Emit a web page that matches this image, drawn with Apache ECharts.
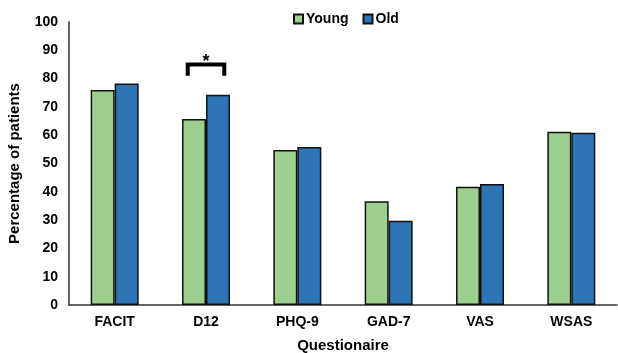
<!DOCTYPE html>
<html><head><meta charset="utf-8">
<script src="https://cdn.jsdelivr.net/npm/echarts@6/dist/echarts.min.js"></script>
<style>html,body{margin:0;padding:0;background:#fff}#c{width:618px;height:353px}</style>
</head><body><div id="c"></div>
<script>
const categories = ['FACIT','D12','PHQ-9','GAD-7','VAS','WSAS'];
const young = [76.0, 65.7, 54.8, 36.7, 41.8, 61.2];
const old = [78.3, 74.3, 55.8, 29.8, 42.8, 60.9];
const yTicks = [0,10,20,30,40,50,60,70,80,90,100];
const sigCategory = 'D12';
const sigTop = 85;
const sigLeg = 81;
const sigStar = 85.8;

const chart = echarts.init(document.getElementById('c'), null, {renderer:'canvas'});
const font = 'Liberation Sans, Arial, sans-serif';
chart.setOption({
  animation:false,
  textStyle:{fontFamily:font},
  legend:{
    data:['Young','Old'], top:7, left:288,
    itemWidth:9, itemHeight:9, itemGap:14,
    icon:'rect',
    textStyle:{fontFamily:font, fontWeight:'bold', fontSize:14, color:'#000', padding:[0,0,0,-2]}
  },
  grid:{left:69, right:1, top:22, bottom:48, containLabel:false, outerBoundsMode:'none'},
  xAxis:{
    type:'category', data:categories,
    axisLine:{lineStyle:{color:'#333', width:1.5}},
    axisTick:{show:false},
    axisLabel:{fontFamily:font, fontWeight:'bold', fontSize:14, color:'#000', margin:10},
    name:'Questionaire', nameLocation:'middle', nameGap:33,
    nameTextStyle:{fontFamily:font, fontWeight:'bold', fontSize:15, color:'#000'}
  },
  yAxis:{
    type:'value', min:yTicks[0], max:yTicks[yTicks.length-1], interval:10,
    axisLine:{show:true, lineStyle:{color:'#333', width:1.5}},
    axisTick:{show:false},
    splitLine:{show:false},
    axisLabel:{fontFamily:font, fontWeight:'bold', fontSize:14, color:'#000', margin:11},
    name:'Percentage of patients', nameLocation:'middle', nameGap:47,
    nameTextStyle:{fontFamily:font, fontWeight:'bold', fontSize:15, color:'#000'}
  },
  series:[
    {name:'Young', type:'bar', data:young, barWidth:24, barGap:'0%',
     itemStyle:{color:'#9dcf8e', borderColor:'#111', borderWidth:1.5}},
    {name:'Old', type:'bar', data:old, barWidth:24,
     itemStyle:{color:'#2e75b6', borderColor:'#111', borderWidth:1.5}},
    {type:'custom', silent:true, z:10,
     data:[[categories.indexOf(sigCategory), sigTop, sigLeg, sigStar]],
     renderItem:function(params, api){
       const idx = api.value(0);
       const top = api.coord([idx, api.value(1)]);
       const leg = api.coord([idx, api.value(2)]);
       const star = api.coord([idx, api.value(3)]);
       const band = api.size([1,0])[0];
       const hw = band*0.2;
       return {type:'group', children:[
         {type:'polyline', shape:{points:[[top[0]-hw, leg[1]],[top[0]-hw, top[1]],[top[0]+hw, top[1]],[top[0]+hw, leg[1]]]},
          style:{stroke:'#000', lineWidth:4, fill:null}},
         {type:'text', x:star[0], y:star[1], style:{text:'*', fontFamily:font, fontWeight:'bold', fontSize:18, fill:'#000', align:'center', verticalAlign:'middle'}}
       ]};
     }}
  ]
});
</script></body></html>
